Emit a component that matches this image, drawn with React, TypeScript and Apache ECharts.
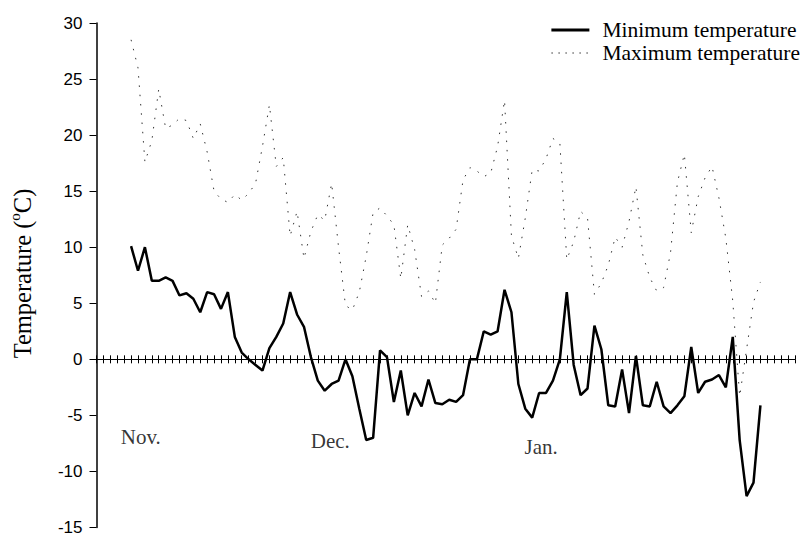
import React, { useEffect, useRef } from "react";
import * as echarts from "echarts";

// x axis: day ticks 0..100, observations start at day 4 (1 Nov)
const startDay = 4;
const minTemp = [
  10.1, 7.9, 10.0, 7.0, 7.0, 7.3, 7.0, 5.7, 5.9, 5.4,
  4.2, 6.0, 5.8, 4.5, 6.0, 2.0, 0.6, 0.0, -0.5, -1.0,
  1.0, 2.0, 3.2, 6.0, 4.0, 2.9, 0.2, -1.9, -2.8, -2.2,
  -1.9, 0.0, -1.5, -4.4, -7.2, -7.0, 0.8, 0.2, -3.8, -1.0,
  -5.0, -3.0, -4.2, -1.8, -3.9, -4.0, -3.6, -3.8, -3.2, 0.0,
  0.0, 2.5, 2.2, 2.5, 6.2, 4.2, -2.2, -4.4, -5.2, -3.0,
  -3.0, -1.9, 0.0, 6.0, -0.5, -3.2, -2.6, 3.0, 0.9, -4.1,
  -4.2, -0.9, -4.8, 0.3, -4.1, -4.2, -2.0, -4.2, -4.8, -4.1,
  -3.3, 1.1, -3.0, -2.0, -1.8, -1.4, -2.5, 2.0, -7.2, -12.2,
  -11.0, -4.1,
];
const maxTemp = [
  28.5, 26.0, 17.6, 19.5, 24.1, 20.6, 20.9, 21.5, 21.3, 19.7,
  21.0, 18.5, 15.0, 14.3, 14.0, 14.7, 14.2, 14.8, 15.7, 19.0,
  22.7, 17.2, 18.0, 11.0, 13.2, 9.0, 11.4, 12.9, 12.4, 15.7,
  10.0, 4.8, 4.4, 6.0, 9.2, 13.1, 13.5, 12.8, 12.0, 7.2,
  12.0, 9.8, 5.6, 6.1, 5.0, 10.2, 10.8, 11.6, 16.0, 17.1,
  16.8, 16.3, 16.6, 19.0, 23.1, 11.0, 9.0, 12.6, 16.9, 16.8,
  17.9, 19.7, 19.3, 8.9, 10.5, 13.2, 12.6, 5.8, 6.8, 8.4,
  10.9, 10.0, 12.3, 15.4, 9.3, 7.3, 6.1, 6.4, 9.5, 15.8,
  18.3, 11.3, 14.5, 16.2, 17.2, 14.4, 10.8, 5.2, -3.3, 0.9,
  5.1, 6.9,
];
const seriesNames = ["Minimum temperature", "Maximum temperature"];
const yMin = -15;
const yMax = 30;
const yStep = 5;
const xMin = -1;
const xMax = 100;
const monthNames = ["Nov.", "Dec.", "Jan."];
const monthDay = [5.4, 32.8, 63.3];
const monthTemp = [-6.9, -7.3, -7.8];

export default function App() {
  const ref = useRef<HTMLDivElement>(null);
  useEffect(() => {
    if (!ref.current) return;
    const chart = echarts.init(ref.current, null, { renderer: "svg" });
    const serif = "'Liberation Serif', 'Times New Roman', serif";
    const sans = "'Liberation Sans', Arial, sans-serif";
    const xBase: any = {
      type: "value",
      min: xMin,
      max: xMax,
      interval: 1,
      axisLabel: { show: false },
      splitLine: { show: false },
    };
    const yBase: any = {
      type: "value",
      min: yMin,
      max: yMax,
      interval: yStep,
      splitLine: { show: false },
    };
    chart.setOption({
      animation: false,
      grid: { left: 96.5, right: 11, top: 23, bottom: 5, containLabel: false },
      xAxis: [
        {
          ...xBase,
          position: "bottom",
          axisLine: { show: true, onZero: true, onZeroAxisIndex: 0, lineStyle: { color: "#000", width: 1 } },
          axisTick: { show: true, inside: false, length: 4, lineStyle: { color: "#000", width: 1 } },
        },
        {
          ...xBase,
          position: "top",
          axisLine: { show: true, onZero: true, onZeroAxisIndex: 1, lineStyle: { color: "#000", width: 1 } },
          axisTick: { show: true, inside: false, length: 4, lineStyle: { color: "#000", width: 1 } },
        },
      ],
      yAxis: [
        {
          ...yBase,
          position: "left",
          axisLine: { show: true, onZero: false, lineStyle: { color: "#000", width: 1.5 } },
          axisTick: { show: true, inside: false, length: 7, lineStyle: { color: "#000", width: 1 } },
          axisLabel: { color: "#000", fontSize: 17, fontFamily: sans, margin: 14 },
        },
        {
          ...yBase,
          position: "right",
          axisLine: { show: false, onZero: false },
          axisTick: { show: false },
          axisLabel: { show: false },
        },
      ],
      legend: {
        data: [
          { name: seriesNames[0], lineStyle: { width: 3, color: "#000" } },
          { name: seriesNames[1], lineStyle: { width: 1, color: "#333", type: [1.5, 5.5] } },
        ],
        orient: "vertical",
        right: 6,
        top: 19,
        padding: 0,
        itemWidth: 38,
        itemHeight: 14,
        itemGap: 1,
        align: "left",
        itemStyle: { opacity: 0 },
        textStyle: { fontFamily: serif, fontSize: 21.5, color: "#000", padding: [0, 0, 0, 8] },
      },
      graphic: [
        {
          type: "text",
          x: 22,
          y: 273.5,
          rotation: Math.PI / 2,
          style: {
            text: "Temperature ({sup|o}C)",
            fontFamily: serif,
            fontSize: 24.5,
            fill: "#000",
            align: "center",
            verticalAlign: "middle",
            rich: {
              sup: { fontFamily: serif, fontSize: 15, fill: "#000", padding: [0, 0, 15, 0] },
            },
          },
        },
      ],
      series: [
        {
          name: seriesNames[0],
          type: "line",
          xAxisIndex: 0,
          yAxisIndex: 0,
          data: minTemp.map((v, i) => [startDay + i, v]),
          symbol: "none",
          lineStyle: { color: "#000", width: 2.5 },
          itemStyle: { color: "#000" },
          z: 3,
        },
        {
          name: seriesNames[1],
          type: "line",
          xAxisIndex: 0,
          yAxisIndex: 0,
          data: maxTemp.map((v, i) => [startDay + i, v]),
          symbol: "none",
          lineStyle: { color: "#333", width: 1, type: [1.5, 7.8] },
          itemStyle: { color: "#333" },
          z: 2,
        },
        {
          name: "months",
          type: "scatter",
          xAxisIndex: 0,
          yAxisIndex: 0,
          silent: true,
          symbolSize: 0,
          data: monthNames.map((n, i) => ({ name: n, value: [monthDay[i], monthTemp[i]] })),
          label: {
            show: true,
            position: "inside",
            formatter: "{b}",
            fontFamily: serif,
            fontSize: 21,
            color: "#000",
          },
        },
      ],
    });
    return () => chart.dispose();
  }, []);
  return (
    <div
      ref={ref}
      style={{ position: "absolute", left: 0, top: 0, width: 806, height: 536 }}
    />
  );
}
